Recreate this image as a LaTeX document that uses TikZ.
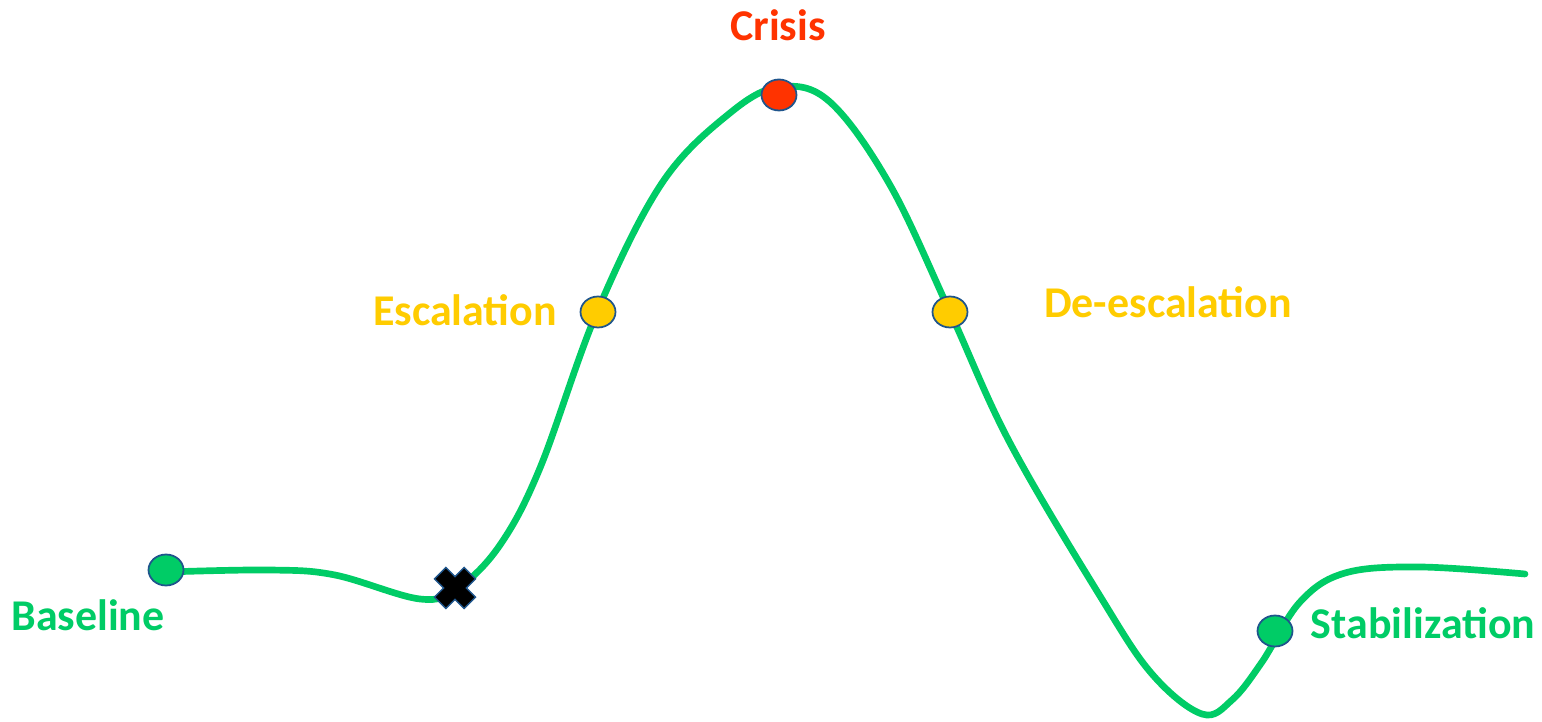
\documentclass[tikz,border=0pt]{standalone}
\usepackage{fontspec}
\setmainfont{Carlito}
\usetikzlibrary{shapes.geometric}
\definecolor{phgreen}{RGB}{0,204,102}
\definecolor{phyellow}{RGB}{255,204,0}
\definecolor{phred}{RGB}{255,51,0}
\definecolor{phblue}{RGB}{31,85,140}
\tikzset{dot/.style={ellipse,draw=phblue,line width=1pt,inner sep=0,minimum width=.7cm,minimum height=.62cm},
 lbl/.style={font=\fontsize{25}{29}\selectfont\bfseries}}
\begin{document}
\begin{tikzpicture}[x=.02cm,y=-.02cm]
\useasboundingbox(0,0)rectangle(1542,722);
\draw[phgreen,line width=3.8pt,line cap=round]plot[smooth,tension=.6]coordinates{(166,572)(270,570)(335,575)(420,599)(458,588)(500,545)(540,468)(597,312)(662,183)(730,113)(780,87)(830,102)(890,185)(950,312)(1010,443)(1100,596)(1152,674)(1202,714)(1232,700)(1262,662)(1300,602)(1345,573)(1420,567)(1525,574)};
\begin{scope}[every node/.style=dot]\node[fill=phgreen](base)at(166,570){};\node[fill=phyellow](esc)at(598,312){};\node[fill=phred](crisis)at(779,95){};\node[fill=phyellow](desc)at(950,312){};\node[fill=phgreen](stab)at(1275,631){};\end{scope}
\filldraw[fill=black,draw=phblue,line width=.8pt,shift={(455,588)},rotate=45](-8,-21)--(8,-21)--(8,-8)--(21,-8)--(21,8)--(8,8)--(8,21)--(-8,21)--(-8,8)--(-21,8)--(-21,-8)--(-8,-8)--cycle;
\node[lbl,phred](crisislbl)at(778,25){Crisis};
\node[lbl,phyellow,anchor=east](esclbl)at(563,310){Escalation};
\node[lbl,phyellow](desclbl)at(1168,302){De-escalation};
\node[lbl,phgreen](baselbl)at(88,615){Baseline};
\node[lbl,phgreen](stablbl)at(1423,623){Stabilization};
\end{tikzpicture}
\end{document}
